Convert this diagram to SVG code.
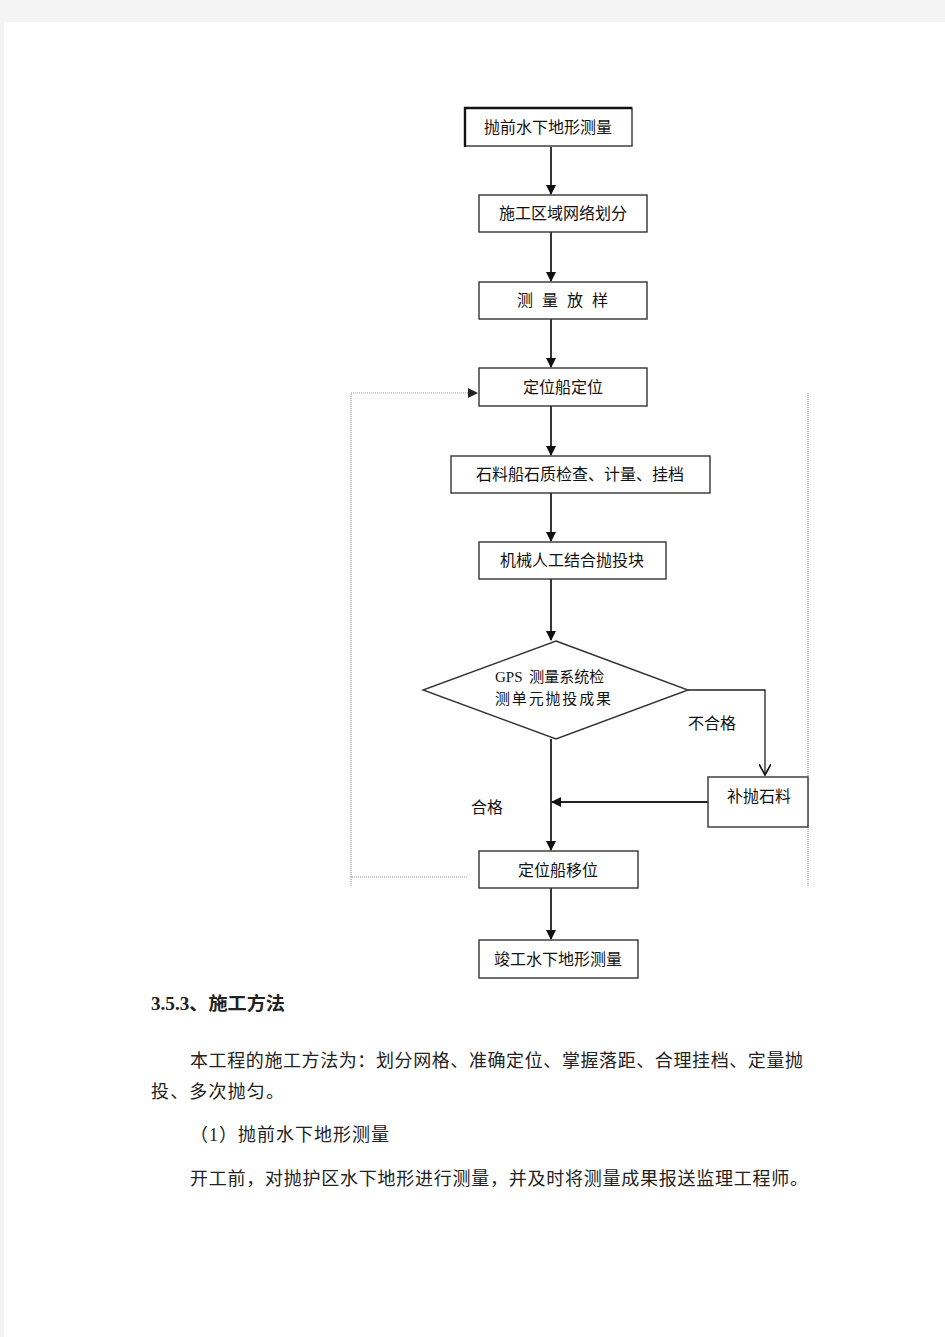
<svg xmlns="http://www.w3.org/2000/svg" width="945" height="1337" viewBox="0 0 945 1337">
<style>
.box{fill:#fff;stroke:#333;stroke-width:1.4}
.t{font-family:"Noto Sans CJK SC","Noto Sans",sans-serif;font-size:16px;fill:#111;text-anchor:middle}
.l{font-family:"Noto Sans CJK SC","Noto Sans",sans-serif;font-size:16px;fill:#111}
.c{stroke:#222;stroke-width:1.8;fill:none}
.d{stroke:#9a9a9a;stroke-width:1.2;stroke-dasharray:1 1;fill:none}
.p{font-family:"Liberation Serif","Noto Sans CJK SC",serif;font-size:18px;fill:#222}
</style>
<defs>
<marker id="ah" markerWidth="10" markerHeight="10" refX="9" refY="5" orient="auto" markerUnits="userSpaceOnUse">
<path d="M0,0 L10,5 L0,10 Z" fill="#111"/>
</marker>
<marker id="ao" markerWidth="12" markerHeight="12" refX="11" refY="6" orient="auto" markerUnits="userSpaceOnUse">
<path d="M0,0 L11,6 L0,12" fill="none" stroke="#111" stroke-width="1.6"/>
</marker>
<marker id="ad" markerWidth="10" markerHeight="10" refX="9" refY="5" orient="auto" markerUnits="userSpaceOnUse">
<path d="M0,0 L10,5 L0,10 Z" fill="#222"/>
</marker>
</defs>
<rect x="0" y="0" width="945" height="1337" fill="#f4f4f4"/>
<rect x="4" y="22" width="941" height="1315" fill="#fff"/>

<g id="connectors">
<line class="c" x1="551" y1="147" x2="551" y2="194" marker-end="url(#ah)"/>
<line class="c" x1="551" y1="232" x2="551" y2="281" marker-end="url(#ah)"/>
<line class="c" x1="551" y1="319" x2="551" y2="367" marker-end="url(#ah)"/>
<line class="c" x1="551" y1="406" x2="551" y2="455" marker-end="url(#ah)"/>
<line class="c" x1="551" y1="493" x2="551" y2="541" marker-end="url(#ah)"/>
<line class="c" x1="551" y1="579" x2="551" y2="640" marker-end="url(#ah)"/>
<polyline class="c" style="stroke-width:1.3" points="688,690 765,690 765,775" marker-end="url(#ao)"/>
<line class="c" x1="708" y1="802" x2="552" y2="802" marker-end="url(#ah)"/>
<line class="c" x1="551" y1="739" x2="551" y2="850" marker-end="url(#ah)"/>
<line class="c" x1="551" y1="888" x2="551" y2="939" marker-end="url(#ah)"/>
<polyline class="d" points="467,877 351,877 351,393 477,393" marker-end="url(#ad)"/>
<line class="d" x1="808" y1="393" x2="808" y2="886"/>
<line class="d" x1="351" y1="877" x2="351" y2="886"/>
<text class="l" x="688" y="729">不合格</text>
<text class="l" x="471" y="813">合格</text>
</g>

<g id="n1"><rect class="box" x="465" y="108" width="167" height="38"/><path d="M465,147 L465,108 L632,108" fill="none" stroke="#111" stroke-width="2.4"/><text class="t" x="548" y="133">抛前水下地形测量</text></g>
<g id="n2"><rect class="box" x="479" y="195" width="168" height="37"/><text class="t" x="563" y="219">施工区域网络划分</text></g>
<g id="n3"><rect class="box" x="479" y="282" width="168" height="37"/><text class="l" x="517" y="306" textLength="91" lengthAdjust="spacing">测 量 放 样</text></g>
<g id="n4"><rect class="box" x="479" y="368" width="168" height="38"/><text class="t" x="563" y="393">定位船定位</text></g>
<g id="n5"><rect class="box" x="451" y="456" width="259" height="37"/><text class="t" x="580" y="480">石料船石质检查、计量、挂档</text></g>
<g id="n6"><rect class="box" x="479" y="542" width="187" height="37"/><text class="t" x="572" y="566">机械人工结合抛投块</text></g>
<g id="n7"><polygon class="box" points="556,641 688,690 556,739 423,690"/><text class="l" style="font-size:15px" x="495" y="682" xml:space="preserve"><tspan font-family="Liberation Serif,serif">GPS</tspan>  测量系统检</text><text class="l" style="font-size:15px" x="495" y="704" textLength="116" lengthAdjust="spacing">测单元抛投成果</text></g>
<g id="n8"><rect class="box" x="708" y="777" width="100" height="50"/><text class="t" x="759" y="802">补抛石料</text></g>
<g id="n9"><rect class="box" x="479" y="851" width="159" height="37"/><text class="t" x="558" y="876">定位船移位</text></g>
<g id="n10"><rect class="box" x="479" y="940" width="159" height="38"/><text class="t" x="558" y="965">竣工水下地形测量</text></g>

<g id="body">
<text class="p" x="151" y="1010" font-weight="bold" textLength="134" lengthAdjust="spacingAndGlyphs">3.5.3、施工方法</text>
<text class="p" x="190" y="1067" textLength="613" lengthAdjust="spacing">本工程的施工方法为：划分网格、准确定位、掌握落距、合理挂档、定量抛</text>
<text class="p" x="151" y="1098" textLength="133" lengthAdjust="spacing">投、多次抛匀。</text>
<text class="p" x="190" y="1141" textLength="199" lengthAdjust="spacing">（1）抛前水下地形测量</text>
<text class="p" x="190" y="1185" textLength="618" lengthAdjust="spacing">开工前，对抛护区水下地形进行测量，并及时将测量成果报送监理工程师。</text>
</g>
</svg>
